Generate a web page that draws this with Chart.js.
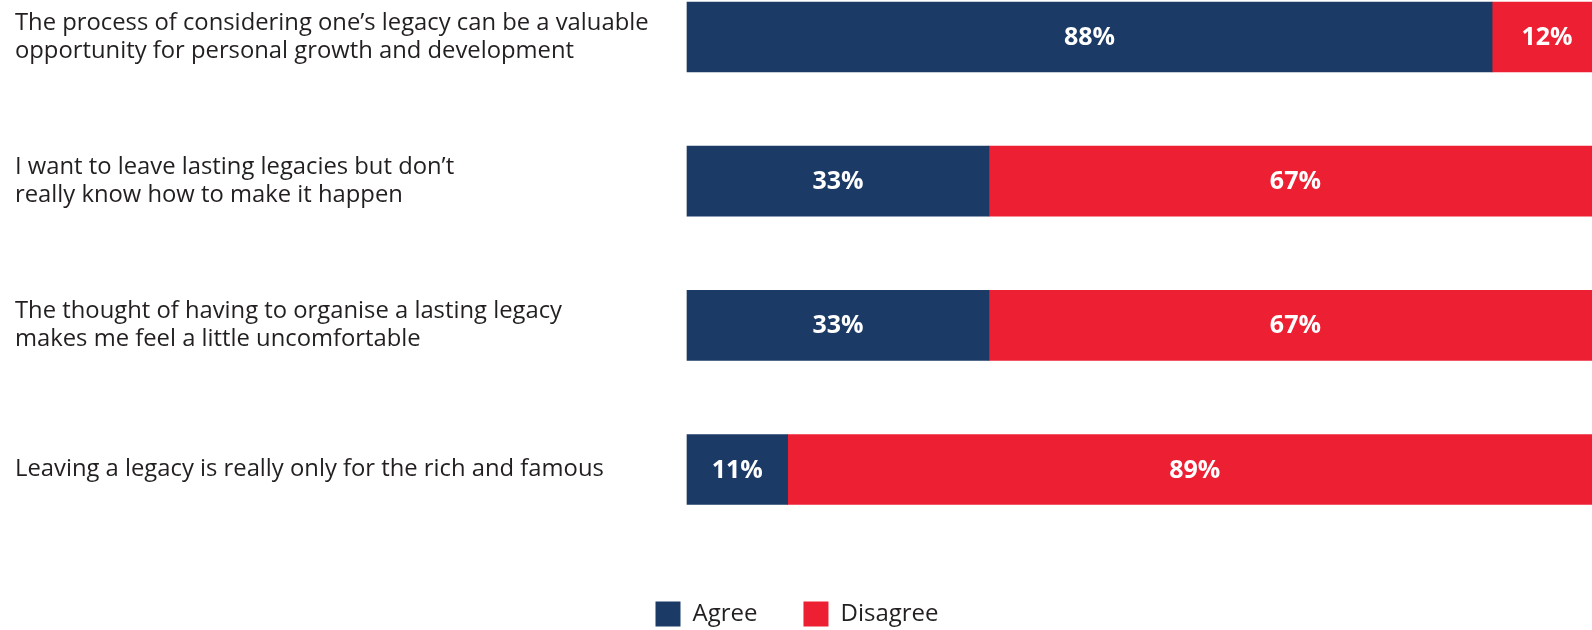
<!DOCTYPE html>
<html>
<head>
<meta charset="utf-8">
<script src="https://cdn.jsdelivr.net/npm/chart.js@4.4.0/dist/chart.umd.min.js"></script>
<style>
  html, body { margin: 0; padding: 0; background: #fff; overflow: hidden; }
  #wrap { position: relative; width: 1592px; height: 630px; }
</style>
</head>
<body>
<div id="wrap"><canvas id="chart"></canvas></div>
<script>
// survey statements and answer shares (%)
var statements = [
    ['The process of considering one\u2019s legacy can be a valuable', 'opportunity for personal growth and development'],
    ['I want to leave lasting legacies but don\u2019t', 'really know how to make it happen'],
    ['The thought of having to organise a lasting legacy', 'makes me feel a little uncomfortable'],
    'Leaving a legacy is really only for the rich and famous'
];
var agree = [88, 33, 33, 11];
var disagree = [12, 67, 67, 89];

var NAVY = '#1b3a66';
var RED = '#ed1f33';
var FONT = "'Open Sans', sans-serif";

// white percentage text in the middle of every segment
var segmentLabels = {
    id: 'segmentLabels',
    afterDatasetsDraw: function(chart) {
        var ctx = chart.ctx;
        ctx.save();
        ctx.fillStyle = '#fff';
        ctx.font = 'bold 25px ' + FONT;
        ctx.textAlign = 'center';
        ctx.textBaseline = 'middle';
        chart.data.datasets.forEach(function(ds, di) {
            chart.getDatasetMeta(di).data.forEach(function(bar, i) {
                var p = bar.getProps(['x', 'y', 'base'], true);
                ctx.fillText(ds.data[i] + '%', (p.x + p.base) / 2, p.y + 1);
            });
        });
        ctx.restore();
    }
};

var ctx = document.getElementById('chart').getContext('2d');
var myChart = new Chart(ctx, {
    type: 'bar',
    data: {
        labels: statements,
        datasets: [{
            label: 'Agree',
            data: agree,
            backgroundColor: NAVY,
            barThickness: 70,
            clip: false
        }, {
            label: 'Disagree',
            data: disagree,
            backgroundColor: RED,
            barThickness: 70,
            clip: false
        }]
    },
    options: {
        indexAxis: 'y',
        responsive: true,
        maintainAspectRatio: false,
        animation: false,
        layout: {
            // right padding keeps the legend centred; bars run on past the plot edge
            padding: { left: 15, top: 37, right: 13, bottom: 0 }
        },
        scales: {
            x: {
                stacked: true,
                min: 0,
                max: 97.5,
                grid: { display: false },
                border: { display: false },
                ticks: { display: false },
                afterFit: function(scale) { scale.height = 86; }
            },
            y: {
                stacked: true,
                offset: false,
                grid: { display: false },
                border: { display: false },
                ticks: {
                    crossAlign: 'far',
                    color: '#231f20',
                    font: { family: FONT, size: 23.8, lineHeight: 1.18 }
                },
                afterFit: function(scale) { scale.width = 672; }
            }
        },
        plugins: {
            legend: {
                position: 'bottom',
                maxHeight: 74.5,
                labels: {
                    boxWidth: 25,
                    boxHeight: 25,
                    padding: 46,
                    color: '#231f20',
                    font: { family: FONT, size: 24 }
                }
            },
            tooltip: { enabled: false }
        }
    },
    plugins: [segmentLabels]
});
</script>
</body>
</html>
